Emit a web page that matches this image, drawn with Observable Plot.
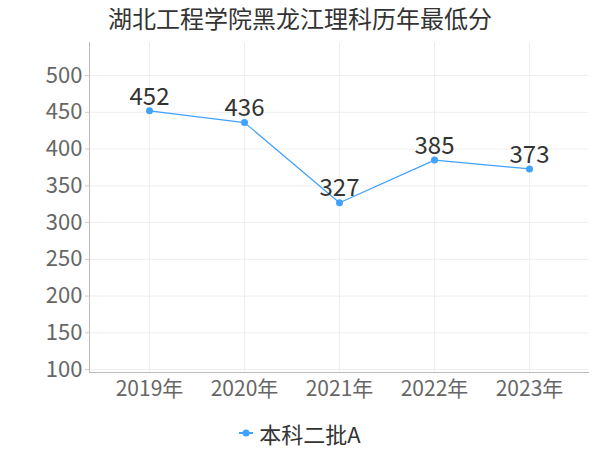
<!DOCTYPE html>
<html><head><meta charset="utf-8">
<script src="https://cdn.jsdelivr.net/npm/d3@7"></script>
<script src="https://cdn.jsdelivr.net/npm/@observablehq/plot@0.6"></script>
<style>
body{margin:0;background:#fff;font-family:"Noto Sans CJK SC","DejaVu Sans",sans-serif;}
#title{height:40px;line-height:36px;padding-left:108px;font-size:24px;color:#333;}
#legend{display:flex;justify-content:center;align-items:center;height:35px;font-size:22px;color:#333;}
</style></head><body>
<div id="title">湖北工程学院黑龙江理科历年最低分</div>
<div id="chart"></div>
<div id="legend"><svg width="16" height="12" style="margin-right:4px"><line x1="0" y1="6" x2="14" y2="6" stroke="#3fa2ff" stroke-width="2"/><circle cx="7" cy="6" r="3.5" fill="#3fa2ff"/></svg>本科二批A</div>
<script>
const years = ["2019年","2020年","2021年","2022年","2023年"];
const scores = [452, 436, 327, 385, 373];
const yTicks = [100,150,200,250,300,350,400,450,500];
const seriesName = "本科二批A";
const data = years.map((y,i)=>({year:y, score:scores[i], series:seriesName}));
const color = "#3fa2ff";
const chart = Plot.plot({
  width:600, height:375,
  marginTop:2, marginBottom:43, marginLeft:89, marginRight:12,
  style:{fontFamily:"'Noto Sans CJK SC','DejaVu Sans',sans-serif", background:"#fff"},
  x:{type:"point", domain:years, padding:0.62, label:null},
  y:{domain:[96,545], label:null},
  marks:[
    Plot.gridY(yTicks,{stroke:"#eeeeee", strokeOpacity:1}),
    Plot.gridX(years,{stroke:"#eeeeee", strokeOpacity:1}),
    Plot.frame({anchor:"left", stroke:"#bbb"}),
    Plot.frame({anchor:"bottom", stroke:"#bbb"}),
    Plot.axisY(yTicks,{tickSize:4, stroke:"#ccc", tickPadding:3, fontSize:22, fill:"#666", label:null}),
    Plot.axisX(years,{tickSize:0, tickPadding:9, fontSize:21, fill:"#666", label:null}),
    Plot.line(data,{x:"year", y:"score", stroke:color, strokeWidth:1.2}),
    Plot.dot(data,{x:"year", y:"score", fill:color, r:3.5}),
    Plot.text(data,{x:"year", y:"score", text:d=>String(d.score), dy:-14, fontSize:24, fill:"#333"})
  ]
});
document.getElementById("chart").appendChild(chart);
</script>
</body></html>
